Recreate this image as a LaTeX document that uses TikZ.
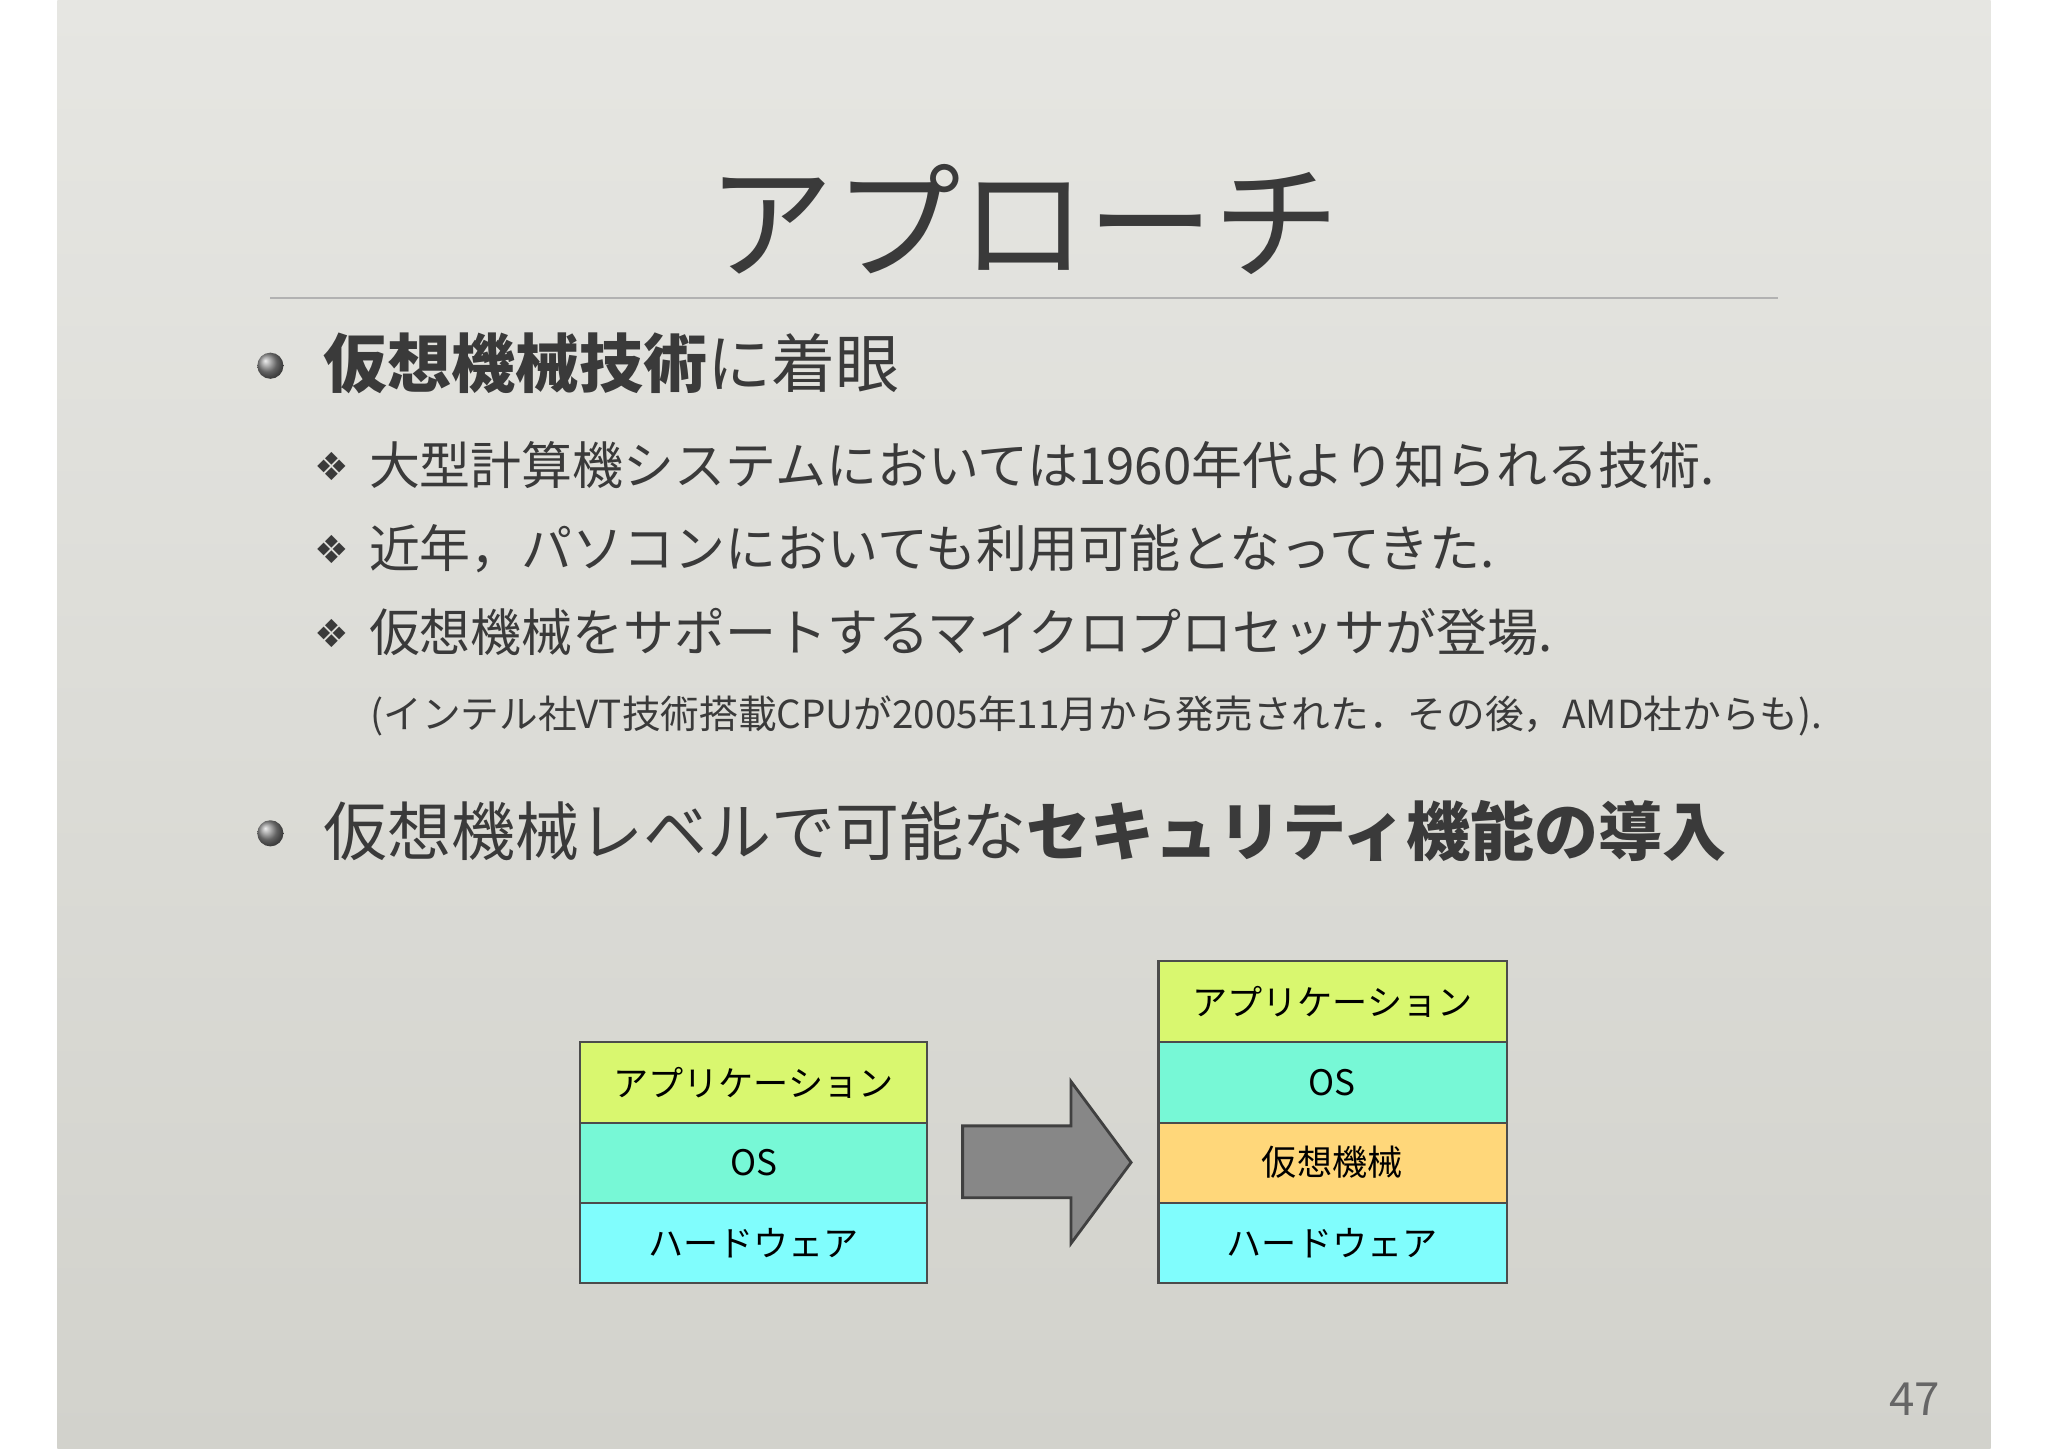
\documentclass[tikz,border=0pt]{standalone}
\usepackage{fontspec}
\setmainfont{Noto Sans CJK JP}
\newfontfamily\dejavu{DejaVu Sans}
\definecolor{txt}{HTML}{3A3A3A}
\definecolor{appc}{HTML}{D9F76F}
\definecolor{osc}{HTML}{77F8D6}
\definecolor{vmc}{HTML}{FFD77A}
\definecolor{hwc}{HTML}{80FDFD}
\definecolor{bgtop}{HTML}{E6E6E2}
\definecolor{bgbot}{HTML}{D2D2CC}
\tikzset{
  px/.style={x=0.013061cm,y=-0.013061cm},
  ttl/.style={anchor=west,text=txt,inner sep=0pt},
  sub/.style={anchor=west,text=txt,inner sep=0pt,font=\fontsize{14.5}{16}\selectfont},
  dia/.style={anchor=center,text=txt,inner sep=0pt,font=\dejavu\fontsize{11}{12}\selectfont},
  lbl/.style={font=\fontsize{10}{12}\selectfont},
}
\begin{document}
\begin{tikzpicture}[px]
\useasboundingbox (0,0) rectangle (1568,1109);
\fill[white] (0,0) rectangle (1568,1109);
\shade[top color=bgtop,bottom color=bgbot] (44,0) rectangle (1524,1109);
\node[anchor=center,text=txt,font=\fontsize{36}{40}\selectfont] (title) at (784,168) {アプローチ};
\draw[black!30,line width=0.5pt] (207,228) -- (1361,228);
\shade[ball color=black!45] (207,280) circle (10);
\node[ttl,font=\fontsize{18.2}{22}\selectfont] (b1) at (247,278) {\textbf{仮想機械技術}に着眼};
\node[dia] (d1) at (254,357) {❖};
\node[sub] (s1) at (282,356) {大型計算機システムにおいては1960年代より知られる技術.};
\node[dia] (d2) at (254,421) {❖};
\node[sub] (s2) at (282,420) {近年，パソコンにおいても利用可能となってきた.};
\node[dia] (d3) at (254,485) {❖};
\node[sub] (s3) at (282,484) {仮想機械をサポートするマイクロプロセッサが登場.};
\node[ttl,font=\fontsize{11}{12}\selectfont] (s4) at (283,548) {(インテル社VT技術搭載CPUが2005年11月から発売された．その後，AMD社からも).};
\shade[ball color=black!45] (207,638) circle (10);
\node[ttl,font=\fontsize{18.2}{22}\selectfont] (b2) at (247,636) {仮想機械レベルで可能な\textbf{セキュリティ機能の導入}};
\fill[appc] (444,798) rectangle (710,860);
\fill[osc] (444,860) rectangle (710,921);
\fill[hwc] (444,921) rectangle (710,982);
\draw[black!70,line width=0.6pt] (444,798) rectangle (710,982) (444,860)--(710,860) (444,921)--(710,921);
\node[lbl] (la) at (577,829) {アプリケーション};
\node[lbl] (lo) at (577,890) {OS};
\node[lbl] (lh) at (577,952) {ハードウェア};
\fill[appc] (887,736) rectangle (1154,798);
\fill[osc] (887,798) rectangle (1154,860);
\fill[vmc] (887,860) rectangle (1154,921);
\fill[hwc] (887,921) rectangle (1154,982);
\draw[black!70,line width=0.6pt] (887,736) rectangle (1154,982) (887,798)--(1154,798) (887,860)--(1154,860) (887,921)--(1154,921);
\node[lbl] (ra) at (1020,767) {アプリケーション};
\node[lbl] (ro) at (1020,829) {OS};
\node[lbl] (rv) at (1020,890) {仮想機械};
\node[lbl] (rh) at (1020,952) {ハードウェア};
\filldraw[fill=black!47,draw=black!75,line width=0.8pt] (737,862) -- (820,862) -- (820,828) -- (866,890) -- (820,952) -- (820,917) -- (737,917) -- cycle;
\node[text=black!60,font=\fontsize{13}{14}\selectfont] (pg) at (1466,1071) {47};
\end{tikzpicture}
\end{document}
